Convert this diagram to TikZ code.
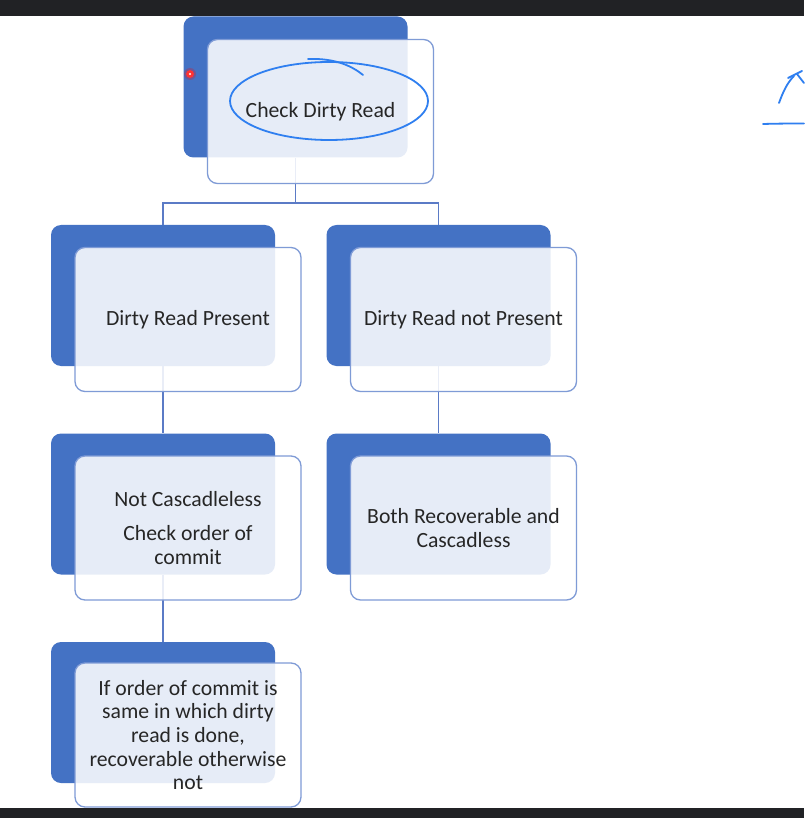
\documentclass[tikz,border=0pt]{standalone}
\usepackage{fontspec}
\setmainfont{Carlito}
\begin{document}
\definecolor{backblue}{HTML}{4472C4}
\definecolor{edgeblue}{HTML}{7F9BD6}
\definecolor{linkblue}{HTML}{5B7BC6}
\definecolor{inkblue}{HTML}{2F7FF0}
\definecolor{txt}{HTML}{262626}
\definecolor{bar}{HTML}{212225}
\begin{tikzpicture}[x=1pt,y=-1pt,
  backbox/.style={rectangle,rounded corners=10pt,fill=backblue,inner sep=0pt,
    minimum width=224pt,minimum height=141pt},
  frontbox/.style={rectangle,rounded corners=10pt,draw=edgeblue,line width=1.3pt,
    fill=white,fill opacity=0.87,text opacity=1,inner sep=0pt,
    minimum width=226pt,minimum height=144pt,text=txt,align=center,
    font=\fontsize{21.7pt}{23.7pt}\selectfont},
  link/.style={draw=linkblue,line width=1.3pt},
  ink/.style={draw=inkblue,line width=1.8pt,line cap=round,line join=round}]
\useasboundingbox (0,0) rectangle (804,818);
\fill[white] (0,0) rectangle (804,818);
\fill[bar] (0,0) rectangle (804,16);
\fill[bar] (0,808) rectangle (804,818);

% back boxes
\node[backbox] (b1) at (295.5,87) {};
\node[backbox] (b2) at (163,295.5) {};
\node[backbox] (b3) at (438.5,295.5) {};
\node[backbox] (b4) at (163,504) {};
\node[backbox] (b5) at (438.5,504) {};
\node[backbox] (b6) at (163,712.5) {};

% connectors
\coordinate (j1) at (295.5,203);
\draw[link] (b1.south) -- (j1);
\draw[link] (j1) -| (b2.north);
\draw[link] (j1) -| (b3.north);
\draw[link] (b2.south) -- (b4.north);
\draw[link] (b3.south) -- (b5.north);
\draw[link] (b4.south) -- (b6.north);

% front boxes
\node[frontbox] (f1) at (320.5,111.5) {Check Dirty Read};
\node[frontbox] (f2) at (188,319.5) {Dirty Read Present};
\node[frontbox] (f3) at (463.5,319.5) {Dirty Read not Present};
\node[frontbox] (f4) at (188,528) {Not Cascadleless\\[10pt]Check order of\\commit};
\node[frontbox] (f5) at (463.5,528) {Both Recoverable and\\Cascadless};
\node[frontbox] (f6) at (188,735) {If order of commit is\\same in which dirty\\read is done,\\recoverable otherwise\\not};

% handwritten annotation
\draw[ink] (329,101) ellipse [x radius=99, y radius=39];
\draw[ink] (308,59) .. controls (335,58) and (352,66) .. (363,75);
\draw[ink] (779,103) .. controls (783,92) and (787,83) .. (794,76);
\draw[ink] (788,78) -- (802,71);
\draw[ink] (797,74) -- (804,83);
\draw[ink] (763,124) .. controls (780,123.5) and (795,123.5) .. (804,123.5);

% laser pointer dot
\fill[red,opacity=0.25] (190,74) circle (6);
\fill[red!80!white] (190,74) circle (4);
\fill[white] (190,74) circle (1.2);
\end{tikzpicture}
\end{document}
